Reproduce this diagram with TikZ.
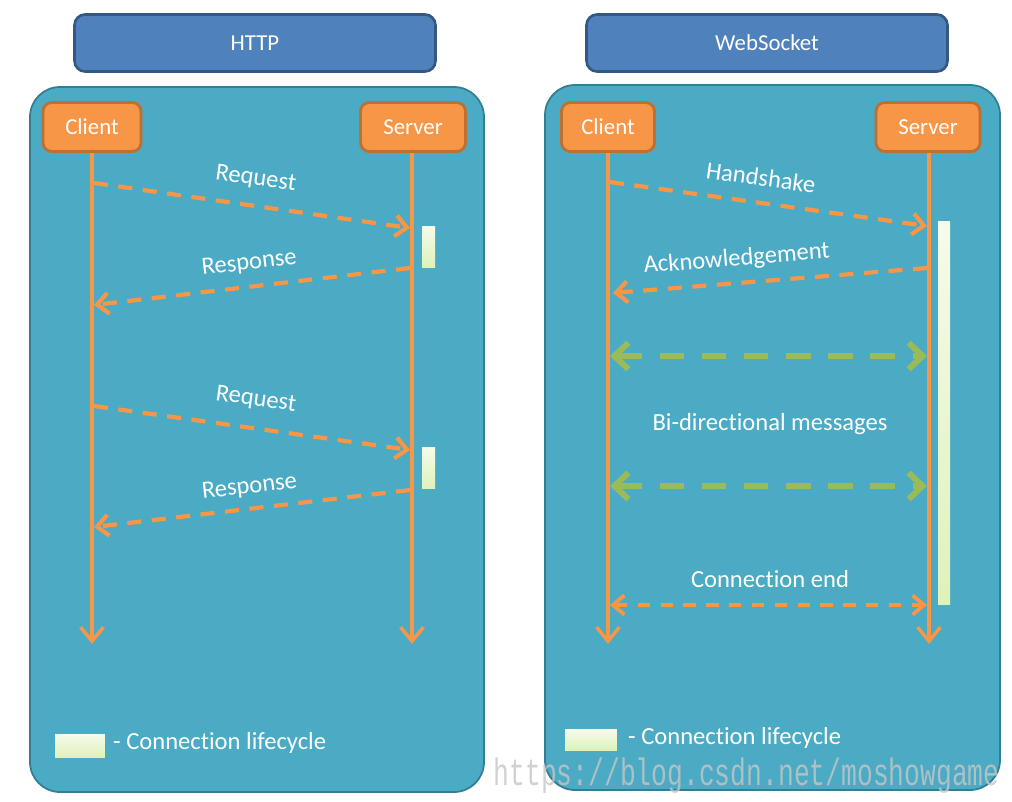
\documentclass[tikz,border=0pt]{standalone}
\usepackage{fontspec}
\setmainfont{Carlito}[Ligatures=NoCommon]
\newfontfamily\wmfont{Liberation Mono}
\usetikzlibrary{arrows.meta,positioning}
\definecolor{wsPanel}{RGB}{75,170,196}
\definecolor{wsPanelLine}{RGB}{50,126,148}
\definecolor{wsBlue}{RGB}{79,129,189}
\definecolor{wsBlueLine}{RGB}{52,88,132}
\definecolor{wsOrange}{RGB}{247,150,70}
\definecolor{wsOrangeLine}{RGB}{190,112,50}
\definecolor{wsGreen}{RGB}{155,187,89}
\definecolor{wsLife}{RGB}{222,242,186}
\tikzset{
  header/.style={draw=wsBlueLine, fill=wsBlue, line width=1.5pt, rounded corners=6pt,
    minimum width=7.22cm, minimum height=1.14cm, text=white, font=\fontsize{13}{15}\selectfont},
  actor/.style={draw=wsOrangeLine, fill=wsOrange, line width=1.6pt, rounded corners=5pt,
    minimum width=1.96cm, minimum height=0.98cm, text=white, font=\fontsize{13}{15}\selectfont},
  panel/.style={draw=wsPanelLine, fill=wsPanel, line width=1pt, rounded corners=0.6cm},
  lifeline/.style={wsOrange, line width=2pt, -{Straight Barb[length=8pt,width=13pt]}},
  msg/.style={wsOrange, line width=2.4pt, dash pattern=on 8pt off 6pt,
    -{Straight Barb[length=6.5pt,width=12pt]}},
  bimsg/.style={wsGreen, line width=3.4pt, dash pattern=on 14pt off 10pt,
    {Straight Barb[length=8pt,width=15pt]}-{Straight Barb[length=8pt,width=15pt]}},
  endmsg/.style={wsOrange, line width=2.2pt, dash pattern=on 7pt off 6pt,
    {Straight Barb[length=6.5pt,width=11pt]}-{Straight Barb[length=6.5pt,width=11pt]}},
  lbl/.style={text=white, font=\fontsize{14}{16}\selectfont},
  lifebar/.style={draw=none, top color=wsLife!30!white, bottom color=wsLife, inner sep=0pt},
}
\begin{document}
\begin{tikzpicture}[x=0.02cm, y=-0.02cm]
% 1 unit = 1 px of the 1012x802 frame, y grows downwards
\useasboundingbox (0,0) rectangle (1012,802);
% ---- HTTP ----
\node[header] (hhttp) at (255,43) {HTTP};
\draw[panel] (30,87) rectangle (484,792);
\node[actor] (hcl) at (92,127) {Client};
\node[actor, minimum width=2.1cm] (hsv) at (413,127) {Server};
\coordinate (hclend) at (92,644);
\coordinate (hsvend) at (412,644);
\draw[lifeline] (hcl.south) -- (hclend);
\draw[lifeline] (hsv.south -| hsvend) -- (hsvend);
% lifecycle bars
\node[lifebar, minimum width=0.26cm, minimum height=0.82cm] (hbar1) at (428.5,246.5) {};
\node[lifebar, minimum width=0.26cm, minimum height=0.82cm] (hbar2) at (428.5,467.5) {};
% messages
\coordinate (hc1) at (94,183);  \coordinate (hs1) at (410,228);
\coordinate (hs2) at (410,268); \coordinate (hc2) at (94,305);
\coordinate (hc3) at (94,406);  \coordinate (hs3) at (410,450);
\coordinate (hs4) at (410,490); \coordinate (hc4) at (94,527);
\draw[msg] (hc1) -- node[lbl, sloped, above=5pt] (hreq1) {Request} (hs1);
\draw[msg] (hs2) -- node[lbl, sloped, above=3pt] (hres1) {Response} (hc2);
\draw[msg] (hc3) -- node[lbl, sloped, above=6pt] (hreq2) {Request} (hs3);
\draw[msg] (hs4) -- node[lbl, sloped, above=2pt] (hres2) {Response} (hc4);
% legend
\node[lifebar, minimum width=1cm, minimum height=0.46cm] (hkey) at (80,745.5) {};
\node[lbl, anchor=west] (hkeytxt) at (107,743) {- Connection lifecycle};
% ---- WebSocket ----
\node[header] (hws) at (767,43) {WebSocket};
\draw[panel] (545,85) rectangle (1000,790);
\node[actor, minimum width=1.86cm] (wcl) at (608,127) {Client};
\node[actor, minimum width=2.08cm] (wsv) at (928,127) {Server};
\coordinate (wclend) at (608,644);
\coordinate (wsvend) at (929,644);
\draw[lifeline] (wcl.south) -- (wclend);
\draw[lifeline] (wsv.south -| wsvend) -- (wsvend);
\node[lifebar, minimum width=0.24cm, minimum height=7.68cm] (wbar) at (944,413) {};
% handshake
\coordinate (wc1) at (610,182); \coordinate (ws1) at (927,226);
\coordinate (ws2) at (927,268); \coordinate (wc2) at (613,293);
\draw[msg] (wc1) -- node[lbl, sloped, above=5pt, pos=0.465] (wshake) {Handshake} (ws1);
\draw[msg] (ws2) -- node[lbl, sloped, above=3pt, pos=0.6] (wack) {Acknowledgement} (wc2);
% bi-directional part
\coordinate (wc3) at (610,356); \coordinate (ws3) at (927,356);
\coordinate (wc4) at (610,486); \coordinate (ws4) at (927,486);
\draw[bimsg] (wc3) -- (ws3);
\draw[bimsg] (wc4) -- (ws4);
\node[lbl] (wbi) at (770,424) {Bi-directional messages};
% closing
\coordinate (wc5) at (610,605); \coordinate (ws5) at (927,605);
\draw[endmsg] (wc5) -- (ws5);
\node[lbl] (wend) at (770,579) {Connection end};
% legend
\node[lifebar, minimum width=1.04cm, minimum height=0.42cm] (wkey) at (591,739.5) {};
\node[lbl, anchor=west] (wkeytxt) at (622,738) {- Connection lifecycle};
% watermark
\node[font=\wmfont\fontsize{15}{15}\selectfont, text=gray!45, opacity=0.8, yscale=1.45,
  anchor=east, inner sep=0pt] (wmark) at (1000,776) {https://blog.csdn.net/moshowgame};
\end{tikzpicture}
\end{document}
